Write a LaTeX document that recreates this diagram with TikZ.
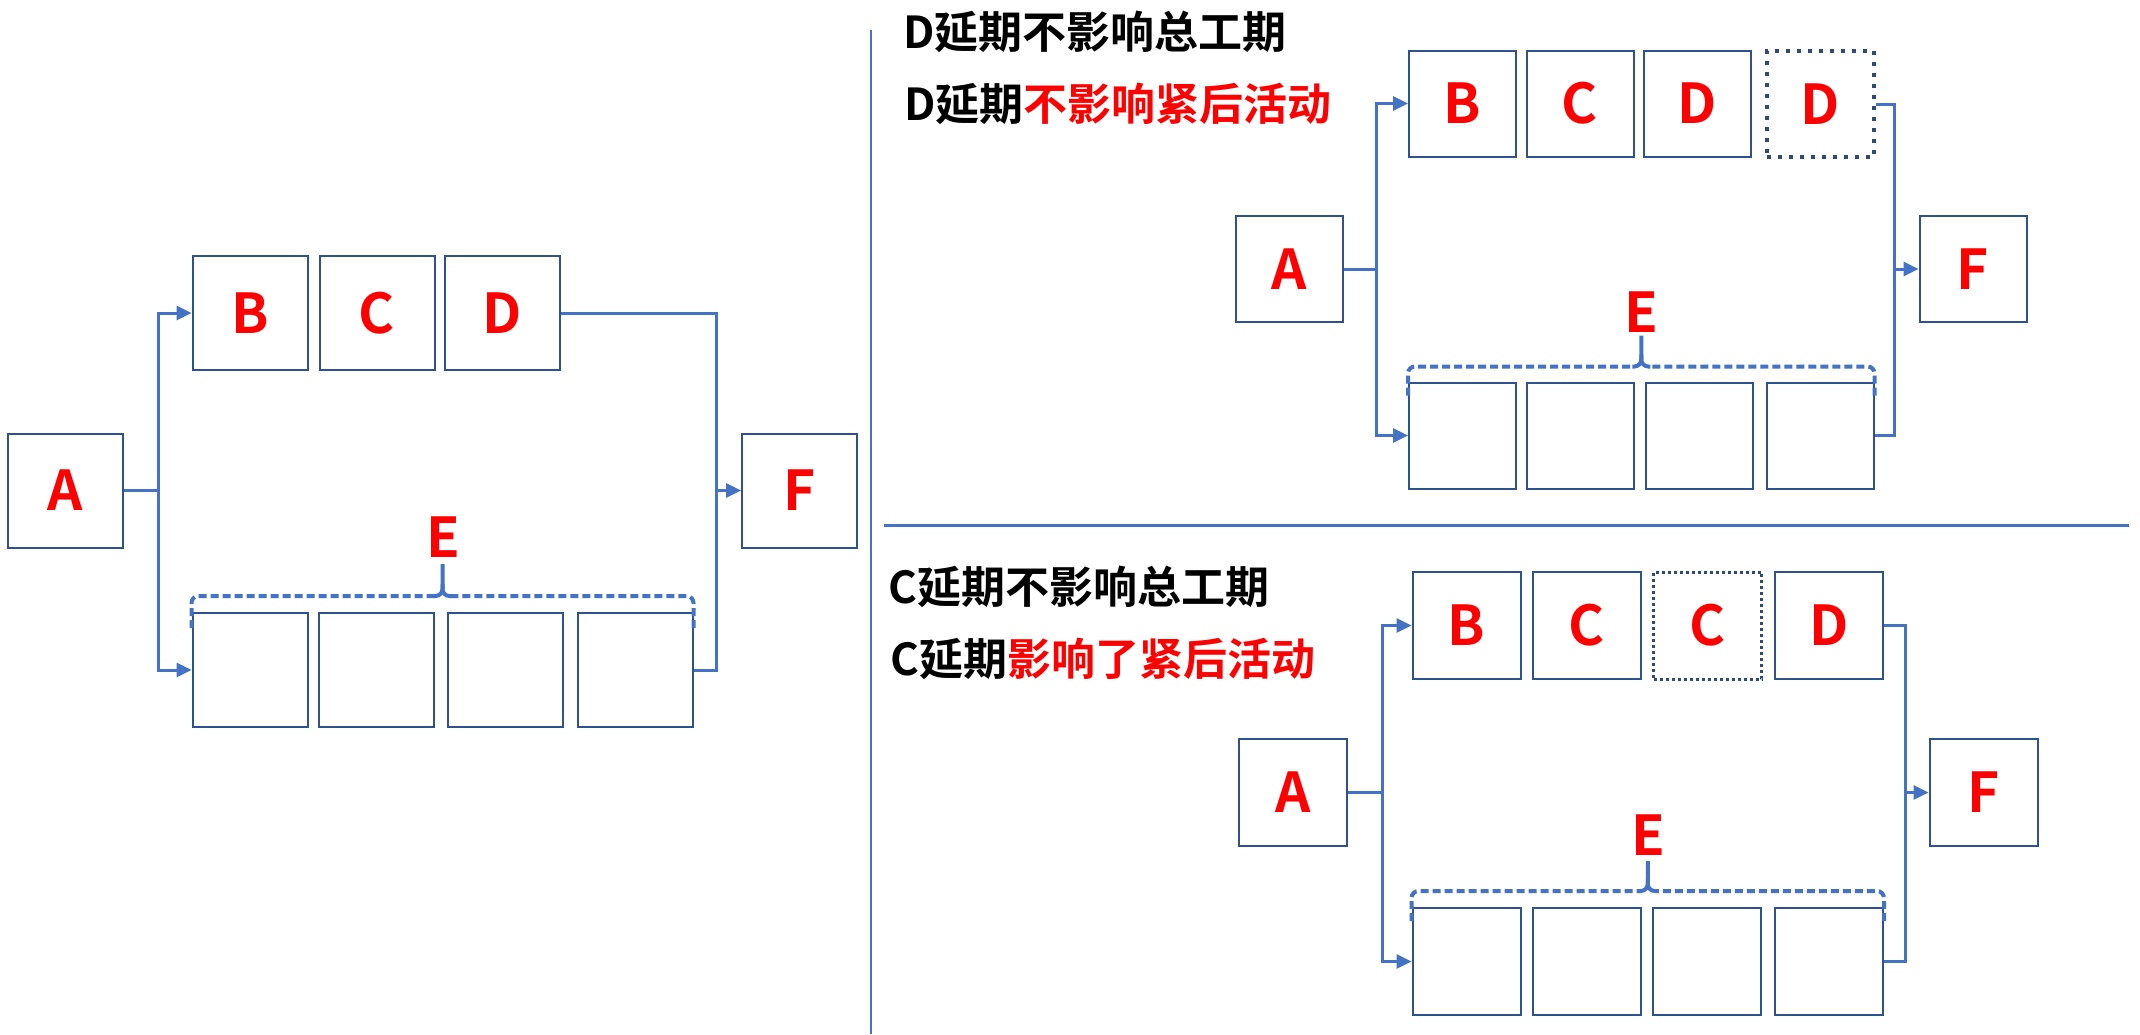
\documentclass[tikz,border=0pt]{standalone}
\usepackage{fontspec}
\setmainfont{Noto Sans CJK SC}[BoldFont={* Bold}]
\usetikzlibrary{arrows.meta,calc}
\definecolor{lineblue}{HTML}{4472C4}
\definecolor{boxblue}{HTML}{2F528F}
\definecolor{dotblue}{HTML}{2E4A78}
\definecolor{txtred}{HTML}{FF0000}
\newcommand{\drawEbrace}[5]{%
  \coordinate (#1bl) at ($(#1.north west)+(0,#4)$);
  \coordinate (#1br) at ($(#2.north east)+(0,#4)$);
  \coordinate (#1ll) at ($(#1.north west)+(0,#3)$);
  \coordinate (#1lr) at ($(#2.north east)+(0,#3)$);
  \coordinate (#1lm) at ($(#1ll)!0.5!(#1lr)$);
  \coordinate (#1tp) at ($(#1lm)+(0,#5)$);
  \draw[brc] (#1bl) -- (#1ll) -- ($(#1lm)+(-8,0)$);
  \draw[brc] (#1br) -- (#1lr) -- ($(#1lm)+(8,0)$);
  \draw[brctip] ($(#1lm)+(-9,0)$) -- (#1lm) -- (#1tp);
  \draw[brctip] ($(#1lm)+(9,0)$) -- (#1lm) -- ($(#1lm)+(0,-12)$);
}
\begin{document}
\begin{tikzpicture}[x=1pt,y=-1pt,
  box/.style={draw=boxblue, line width=2pt, inner sep=0pt, text=txtred,
    font=\fontsize{55}{55}\selectfont\bfseries},
  dotbox/.style={box, draw=dotblue, line width=4pt, dash pattern=on 4pt off 7pt},
  dotboxthin/.style={box, draw=dotblue, line width=3pt, dash pattern=on 3pt off 3pt},
  sizeL/.style={minimum width=115pt, minimum height=114pt},
  sizeT/.style={minimum width=107pt, minimum height=106pt},
  sizeB/.style={minimum width=108pt, minimum height=107pt},
  lab/.style={text=txtred, inner sep=0pt, font=\fontsize{55}{55}\selectfont\bfseries},
  conn/.style={draw=lineblue, line width=3pt},
  arr/.style={conn, -{Triangle[length=15pt,width=14pt]}},
  brc/.style={draw=lineblue, line width=4pt, dash pattern=on 8pt off 4pt,
    rounded corners=7pt},
  brctip/.style={draw=lineblue, line width=4pt, rounded corners=7pt},
  divider/.style={draw=lineblue, line width=3pt},
  head/.style={anchor=west, inner sep=0pt, font=\fontsize{44}{44}\selectfont\bfseries}
]
\useasboundingbox (0,0) rectangle (2140,1034);
\fill[white] (0,0) rectangle (2140,1034);

% ---------- left diagram ----------
\node[box,sizeL] (la) at (65.5,490.5) {A};
\node[box,sizeL] (lb) at (250,313) {B};
\node[box,sizeL] (lc) at (377,313) {C};
\node[box,sizeL] (ld) at (502.5,313) {D};
\node[box,sizeL] (lf) at (799.5,490.5) {F};
\node[box,sizeL] (le1) at (250,670) {};
\node[box,sizeL] (le2) at (376.5,670) {};
\node[box,sizeL] (le3) at (505,670) {};
\node[box,sizeL] (le4) at (635,670) {};
\draw[arr] (la.east) -- ++(34,0) |- (lb.west);
\draw[arr] (la.east) -- ++(34,0) |- (le1.west);
\draw[arr] (ld.east) -| ([xshift=-25pt]lf.west) -- (lf.west);
\draw[conn] (le4.east) -| ([xshift=-25pt]lf.west);
\drawEbrace{le1}{le4}{-16}{16}{-32}
\node[lab] (lE) at (443,537) {E};

% ---------- dividers ----------
\coordinate (dv1) at (871,30);
\coordinate (dv2) at (871,1034);
\coordinate (dh1) at (884,525);
\coordinate (dh2) at (2129,525);
\draw[divider, line width=2.2pt] (dv1) -- (dv2);
\draw[divider] (dh1) -- (dh2);

% ---------- top-right diagram ----------
\node[head] (t1) at (903,32) {D延期不影响总工期};
\node[head] (t2) at (904,104) {D延期\textcolor{txtred}{不影响紧后活动}};
\node[box,sizeT] (ta) at (1289.5,269) {A};
\node[box,sizeT] (tb) at (1462.5,103.5) {B};
\node[box,sizeT] (tc) at (1580,103.5) {C};
\node[box,sizeT] (td) at (1697.5,103.5) {D};
\node[dotbox,sizeT] (tdd) at (1820,104) {D};
\node[box,sizeT] (tf) at (1973,269) {F};
\node[box,sizeT] (te1) at (1462.5,435.5) {};
\node[box,sizeT] (te2) at (1580,435.5) {};
\node[box,sizeT] (te3) at (1699,435.5) {};
\node[box,sizeT] (te4) at (1820,435.5) {};
\draw[arr] (ta.east) -- ++(32,0) |- (tb.west);
\draw[arr] (ta.east) -- ++(32,0) |- (te1.west);
\draw[arr] (tdd.east) -| ([xshift=-24pt]tf.west) -- (tf.west);
\draw[conn] (te4.east) -| ([xshift=-24pt]tf.west);
\drawEbrace{te1}{te4}{-15}{14}{-31}
\node[lab] (tE) at (1641,312) {E};

% ---------- bottom-right diagram ----------
\node[head] (b1) at (888,587) {C延期不影响总工期};
\node[head] (b2) at (890,659) {C延期\textcolor{txtred}{影响了紧后活动}};
\node[box,sizeB] (ba) at (1293,792.5) {A};
\node[box,sizeB] (bb) at (1466.5,625.5) {B};
\node[box,sizeB] (bc) at (1587,625.5) {C};
\node[dotboxthin,sizeB] (bcd) at (1707.5,625.5) {C};
\node[box,sizeB] (bd) at (1829,625.5) {D};
\node[box,sizeB] (bf) at (1983.5,792.5) {F};
\node[box,sizeB] (be1) at (1466.5,961.5) {};
\node[box,sizeB] (be2) at (1587,961.5) {};
\node[box,sizeB] (be3) at (1706.5,961.5) {};
\node[box,sizeB] (be4) at (1829,961.5) {};
\draw[arr] (ba.east) -- ++(34,0) |- (bb.west);
\draw[arr] (ba.east) -- ++(34,0) |- (be1.west);
\draw[arr] (bd.east) -| ([xshift=-23pt]bf.west) -- (bf.west);
\draw[conn] (be4.east) -| ([xshift=-23pt]bf.west);
\drawEbrace{be1}{be4}{-16}{14}{-30}
\node[lab] (bE) at (1648,835) {E};
\end{tikzpicture}
\end{document}
